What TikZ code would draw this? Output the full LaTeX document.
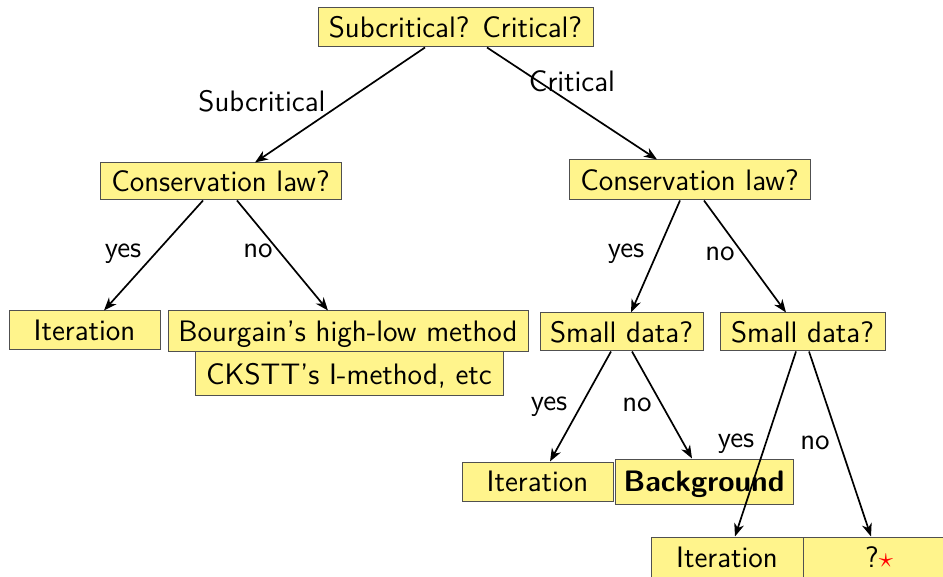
\documentclass[tikz,border=0pt]{standalone}
\usepackage{tikz}
\usetikzlibrary{arrows.meta}
\definecolor{boxfill}{RGB}{255,244,140}
\definecolor{boxline}{RGB}{80,80,80}
\begin{document}
\begin{tikzpicture}[x=0.5pt,y=-0.5pt,
  font=\fontsize{14.8}{17.5}\selectfont\sffamily,
  box/.style={draw=boxline, fill=boxfill, line width=0.5pt, inner sep=0pt,
    text height=11.7pt, text depth=1.5pt, align=center},
  lbl/.style={inner sep=0pt, anchor=base},
  arr/.style={-{Stealth[length=6.5pt,width=5pt,inset=2pt]}, line width=0.85pt}]
\useasboundingbox (0,0) rectangle (943,577);

% question and answer boxes
\node[box, minimum width=137.5pt, minimum height=19.5pt] (top) at (455.5,27.5) {Subcritical? Critical?};
\node[box, minimum width=120.5pt, minimum height=18.5pt] (cl1) at (220.5,181.5) {Conservation law?};
\node[box, minimum width=120.5pt, minimum height=20pt] (cl2) at (689.5,180) {Conservation law?};
\node[box, minimum width=75.5pt, minimum height=19.5pt] (it1) at (84.5,330.5) {Iteration};
\node[box, minimum width=180pt, minimum height=20.5pt] (bour) at (348,331.5) {Bourgain's high-low method};
\node[box, minimum width=154pt, minimum height=22pt] (ckstt) at (349,374) {CKSTT's I-method, etc};
\node[box, minimum width=81.5pt, minimum height=19pt] (sd1) at (621.5,332) {Small data?};
\node[box, minimum width=82.5pt, minimum height=19pt] (sd2) at (802.5,332) {Small data?};
\node[box, minimum width=75.5pt, minimum height=19.5pt] (it2) at (537.5,481.5) {Iteration};
\node[box, minimum width=89pt, minimum height=22.5pt] (bg) at (704,481.5) {\bfseries Background};
\node[box, minimum width=76pt, minimum height=20pt] (it3) at (727,557) {Iteration};
\node[box, minimum width=76pt, minimum height=20pt] (q) at (879,557) {?{\color{red}$\star$}};

% connectors
\draw[arr] ([xshift=-15.25pt]top.south) -- ([xshift=17.25pt]cl1.north);
\draw[arr] ([xshift=15.75pt]top.south) -- ([xshift=-16.25pt]cl2.north);
\draw[arr] ([xshift=-8.75pt]cl1.south) -- ([xshift=9.75pt]it1.north);
\draw[arr] ([xshift=8.25pt]cl1.south) -- ([xshift=-10pt]bour.north);
\draw[arr] ([xshift=-4.75pt]cl2.south) -- ([xshift=4.75pt]sd1.north);
\draw[arr] ([xshift=7.25pt]cl2.south) -- ([xshift=-8.25pt]sd2.north);
\draw[arr] ([xshift=-5.25pt]sd1.south) -- ([xshift=6.25pt]it2.north);
\draw[arr] ([xshift=5.25pt]sd1.south) -- ([xshift=-6pt]bg.north);
\draw[arr] ([xshift=-3.25pt]sd2.south) -- ([xshift=4pt]it3.north);
\draw[arr] ([xshift=3.25pt]sd2.south) -- ([xshift=-4pt]q.north);

% branch labels
\node[lbl] (lsub) at (262,112) {Subcritical};
\node[lbl] (lcrit) at (572,92) {Critical};
\node[lbl] (ly1) at (123,258) {yes};
\node[lbl] (ln1) at (258,258) {no};
\node[lbl] (ly2) at (626,258) {yes};
\node[lbl] (ln2) at (720,261) {no};
\node[lbl] (ly3) at (549,410) {yes};
\node[lbl] (ln3) at (637,412) {no};
\node[lbl] (ly4) at (736,447) {yes};
\node[lbl] (ln4) at (815,450) {no};
\end{tikzpicture}
\end{document}
